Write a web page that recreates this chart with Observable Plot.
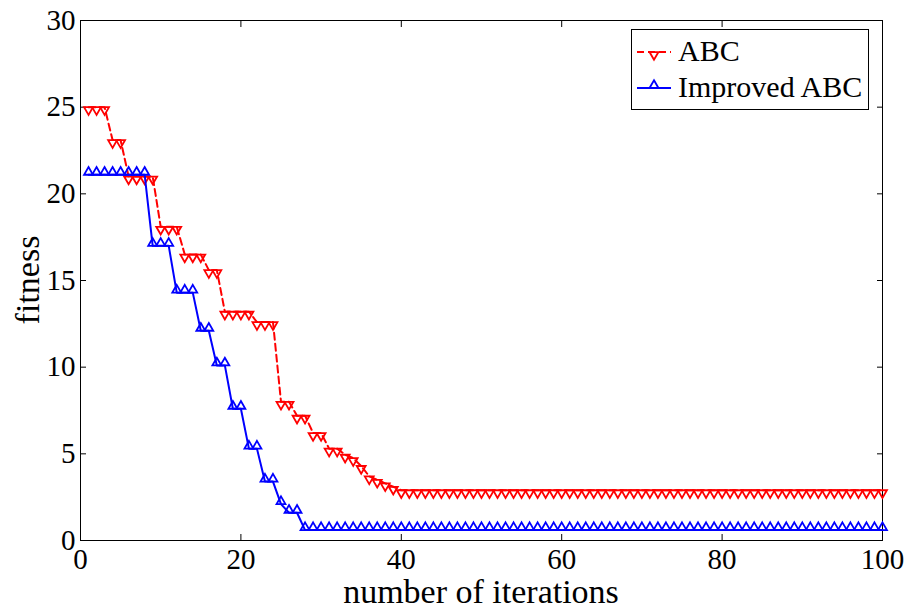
<!DOCTYPE html>
<html><head><meta charset="utf-8">
<script src="https://cdn.jsdelivr.net/npm/d3@7"></script>
<script src="https://cdn.jsdelivr.net/npm/@observablehq/plot@0.6"></script>
<style>body{margin:0;background:#fff}</style>
</head><body><div id="chart"></div>
<script>
const iterations = [1,2,3,4,5,6,7,8,9,10,11,12,13,14,15,16,17,18,19,20,
  21,22,23,24,25,26,27,28,29,30,31,32,33,34,35,36,37,38,39,40,
  41,42,43,44,45,46,47,48,49,50,51,52,53,54,55,56,57,58,59,60,
  61,62,63,64,65,66,67,68,69,70,71,72,73,74,75,76,77,78,79,80,
  81,82,83,84,85,86,87,88,89,90,91,92,93,94,95,96,97,98,99,100];
const abcFitness = [25,25,25,23.1,23.1,21,21,21,21,18.1,18.1,18.1,16.5,16.5,16.5,15.6,15.6,13.2,13.2,13.2,
  13.2,12.6,12.6,12.6,8.0,8.0,7.2,7.2,6.2,6.2,5.3,5.3,4.95,4.75,4.3,3.7,3.5,3.3,3.1,2.9,
  2.9,2.9,2.9,2.9,2.9,2.9,2.9,2.9,2.9,2.9,2.9,2.9,2.9,2.9,2.9,2.9,2.9,2.9,2.9,2.9,
  2.9,2.9,2.9,2.9,2.9,2.9,2.9,2.9,2.9,2.9,2.9,2.9,2.9,2.9,2.9,2.9,2.9,2.9,2.9,2.9,
  2.9,2.9,2.9,2.9,2.9,2.9,2.9,2.9,2.9,2.9,2.9,2.9,2.9,2.9,2.9,2.9,2.9,2.9,2.9,2.9];
const improvedFitness = [21.1,21.1,21.1,21.1,21.1,21.1,21.1,21.1,17.0,17.0,17.0,14.3,14.3,14.3,12.1,12.1,10.1,10.1,7.6,7.6,
  5.3,5.3,3.4,3.4,2.1,1.6,1.6,0.6,0.6,0.6,0.6,0.6,0.6,0.6,0.6,0.6,0.6,0.6,0.6,0.6,
  0.6,0.6,0.6,0.6,0.6,0.6,0.6,0.6,0.6,0.6,0.6,0.6,0.6,0.6,0.6,0.6,0.6,0.6,0.6,0.6,
  0.6,0.6,0.6,0.6,0.6,0.6,0.6,0.6,0.6,0.6,0.6,0.6,0.6,0.6,0.6,0.6,0.6,0.6,0.6,0.6,
  0.6,0.6,0.6,0.6,0.6,0.6,0.6,0.6,0.6,0.6,0.6,0.6,0.6,0.6,0.6,0.6,0.6,0.6,0.6,0.6];
const xTicks = [0,20,40,60,80,100];
const yTicks = [0,5,10,15,20,25,30];
const seriesNames = ["ABC","Improved ABC"];
const xLabel = "number of iterations";
const yLabel = "fitness";

const W = 905, H = 610, mL = 80, mR = 23, mT = 20, mB = 70;
const font = '"Liberation Serif","Times New Roman",serif';
const red = "#ff0000", blue = "#0000ff";
const TK = 6;

const abc = iterations.map((it, i) => ({it, v: abcFitness[i]}));
const imp = iterations.map((it, i) => ({it, v: improvedFitness[i]}));

const plot = Plot.plot({
  width: W, height: H,
  marginLeft: mL, marginRight: mR, marginTop: mT, marginBottom: mB,
  style: {fontFamily: font, background: "white", overflow: "visible", color: "black"},
  x: {domain: [0, 100]},
  y: {domain: [0, 30]},
  marks: [
    Plot.axisX({ticks: xTicks, tickSize: 0, tickPadding: 8, fontSize: 29, label: null, tickFormat: d => String(d)}),
    Plot.axisX({ticks: xTicks, tickSize: TK, dy: -TK, text: null, label: null}),
    Plot.axisX({anchor: "top", ticks: xTicks, tickSize: TK, dy: TK, text: null, label: null}),
    Plot.axisY({ticks: yTicks, tickSize: 0, tickPadding: 5, fontSize: 29, label: null, tickFormat: d => String(d)}),
    Plot.axisY({ticks: yTicks, tickSize: TK, dx: TK, text: null, label: null}),
    Plot.axisY({anchor: "right", ticks: yTicks, tickSize: TK, dx: -TK, text: null, label: null}),
    Plot.frame({stroke: "black", strokeWidth: 1}),
    Plot.line(abc, {x: "it", y: "v", stroke: red, strokeWidth: 2, strokeDasharray: "7,4"}),
    Plot.dot(abc, {x: "it", y: "v", symbol: "triangle", rotate: 180, r: 3.3, stroke: red, strokeWidth: 1.8, fill: "none", dy: 2.6}),
    Plot.line(imp, {x: "it", y: "v", stroke: blue, strokeWidth: 2}),
    Plot.dot(imp, {x: "it", y: "v", symbol: "triangle", r: 3.3, stroke: blue, strokeWidth: 1.8, fill: "none", dy: -2.6})
  ]
});
document.getElementById("chart").appendChild(plot);

const svg = d3.select(plot);
// axis labels
svg.append("text").attr("x", (mL + W - mR) / 2).attr("y", 603)
  .attr("text-anchor", "middle").attr("font-family", font).attr("font-size", 34).attr("fill", "black")
  .text(xLabel);
svg.append("text").attr("transform", `translate(39,${(mT + H - mB) / 2}) rotate(-90)`)
  .attr("text-anchor", "middle").attr("font-family", font).attr("font-size", 34).attr("fill", "black")
  .text(yLabel);

// legend
const lg = svg.append("g");
lg.append("rect").attr("x", 631.5).attr("y", 29.5).attr("width", 237).attr("height", 80)
  .attr("fill", "white").attr("stroke", "black").attr("stroke-width", 1);
const entries = [
  {name: seriesNames[0], color: red, dash: "7,4", rot: 180, ly: 52, ty: 61},
  {name: seriesNames[1], color: blue, dash: null, rot: 0, ly: 88, ty: 97}
];
const tri = d3.symbol(d3.symbolTriangle, 3.3 * 3.3 * Math.PI)();
entries.forEach(e => {
  lg.append("line").attr("x1", 637).attr("x2", 671).attr("y1", e.ly).attr("y2", e.ly)
    .attr("stroke", e.color).attr("stroke-width", 2).attr("stroke-dasharray", e.dash);
  lg.append("path").attr("d", tri)
    .attr("transform", `translate(654,${e.ly + (e.rot ? 2.6 : -2.6)}) rotate(${e.rot})`)
    .attr("fill", "none").attr("stroke", e.color).attr("stroke-width", 1.8);
  lg.append("text").attr("x", 678).attr("y", e.ty).attr("text-anchor", "start")
    .attr("font-family", font).attr("font-size", 30).attr("fill", "black").text(e.name);
});
</script>
</body></html>
